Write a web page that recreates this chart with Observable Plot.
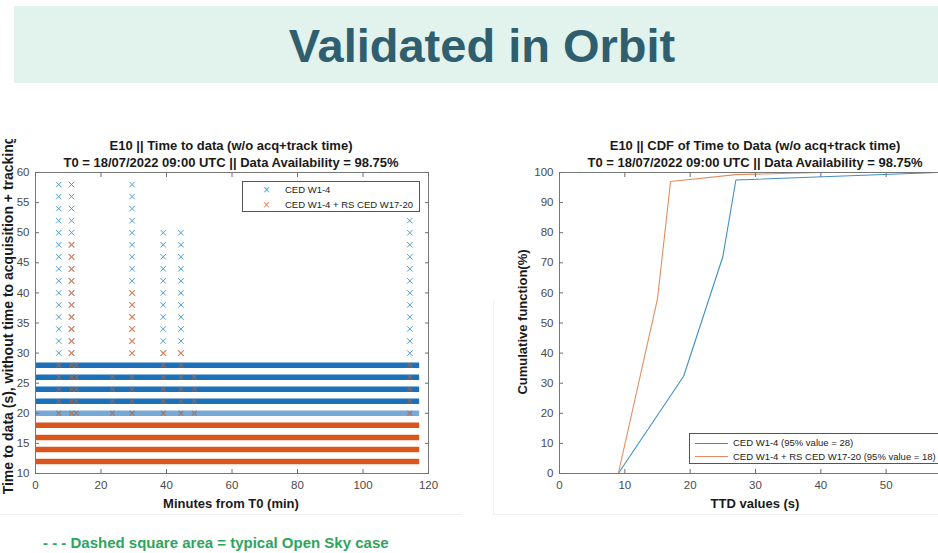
<!DOCTYPE html>
<html><head><meta charset="utf-8">
<script src="https://cdn.jsdelivr.net/npm/d3@7"></script>
<script src="https://cdn.jsdelivr.net/npm/@observablehq/plot@0.6"></script>
<style>
html,body{margin:0;padding:0;background:#fff;overflow:hidden;width:938px;height:553px;}
body{position:relative;font-family:"Liberation Sans",Arial,Helvetica,sans-serif;}
.abs{position:absolute;}
#band{left:14px;top:6px;width:924px;height:77px;background:#e2f2ec;}
#head{left:20px;top:7px;width:924px;height:77px;line-height:77px;text-align:center;font-weight:bold;font-size:47px;color:#2f5f6e;}
.ctitle{font-weight:bold;font-size:13px;color:#1a1a1a;text-align:center;line-height:17px;white-space:nowrap;transform:translate(-50%,0);z-index:2}
.alabel{font-weight:bold;font-size:13px;color:#1a1a1a;white-space:nowrap;z-index:2}
.legend{border:1px solid #555;background:#fff;z-index:2;font-size:9.5px;color:#222;}
.legrow{position:absolute;white-space:nowrap;}
#foot{left:43px;top:534px;font-weight:bold;font-size:15px;color:#2ea55c;white-space:nowrap}
.faint{background:#efefef;}
</style>
</head>
<body>
<div id="band" class="abs"></div>
<div id="head" class="abs">Validated in Orbit</div>
<div id="leftChart" class="abs" style="left:0;top:138px;"></div>
<div id="rightChart" class="abs" style="left:495px;top:138px;"></div>
<div class="abs faint" style="left:0;top:514px;width:462px;height:1px"></div>
<div class="abs faint" style="left:493px;top:514px;width:445px;height:1px"></div>
<div class="abs faint" style="left:493px;top:300px;width:1px;height:214px;background:#f4f4f4"></div>
<div id="foot" class="abs">- - - Dashed square area = typical Open Sky case</div>
<script>
// ---------- DATA ----------
const seriesNames = ["CED W1-4", "CED W1-4 + RS CED W17-20"];
const leftTitle = ["E10 || Time to data (w/o acq+track time)", "T0 = 18/07/2022 09:00 UTC || Data Availability = 98.75%"];
const rightTitle = ["E10 || CDF of Time to Data (w/o acq+track time)", "T0 = 18/07/2022 09:00 UTC || Data Availability = 98.75%"];
const leftXLabel = "Minutes from T0 (min)";
const leftYLabel = "Time to data (s), without time to acquisition + tracking";
const rightXLabel = "TTD values (s)";
const rightYLabel = "Cumulative function(%)";
const rightLegendText = ["CED W1-4 (95% value = 28)", "CED W1-4 + RS CED W17-20 (95% value = 18)"];

const leftXTicks = [0, 20, 40, 60, 80, 100, 120];
const leftYTicks = [10, 15, 20, 25, 30, 35, 40, 45, 50, 55, 60];
const rightXTicks = [0, 10, 20, 30, 40, 50, 60];
const rightXTickLabels = [0, 10, 20, 30, 40, 50];   // 60 falls outside the picture
const rightYTicks = [0, 10, 20, 30, 40, 50, 60, 70, 80, 90, 100];

// dense rows of samples (one per epoch, over the whole pass)
const bandTTD      = [28, 26, 24, 22, 20, 18, 16, 14, 12];
const bandSeries   = [0, 0, 0, 0, 0, 1, 1, 1, 1];
const bandCoverage = [1, 1, 1, 1, 0.6, 1, 1, 1, 1];
const bandFirstMin = 0;
const bandLastMin  = 117.3;

// sparse columns of large TTD values
const colMinutes = [7.1, 11.0, 29.5, 39.0, 44.4, 114.3];
const blueColTTD = [
  [30, 32, 34, 36, 38, 40, 42, 44, 46, 48, 50, 52, 54, 56, 58],
  [30, 32, 34, 36, 38, 40, 42, 44, 46, 48, 50, 52, 54, 56, 58],
  [30, 32, 34, 36, 38, 40, 42, 44, 46, 48, 50, 52, 54, 56, 58],
  [30, 32, 34, 36, 38, 40, 42, 44, 46, 48, 50],
  [30, 32, 34, 36, 38, 40, 42, 44, 46, 48, 50],
  [30, 32, 34, 36, 38, 40, 42, 44, 46, 48, 50, 52]
];
const orangeColTTD = [
  [],
  [30, 32, 34, 36, 38, 40, 42, 44, 46, 48],
  [30, 32, 34, 36, 38, 40],
  [30],
  [30],
  []
];
// orange samples lying on top of the blue rows
const overlapMinutes = [7.1, 11.0, 12.5, 23.5, 29.5, 39.0, 44.4, 48.5, 114.3];
const overlapTTD = [
  [20, 22, 24, 26, 28],
  [20, 22, 24, 26, 28],
  [20, 22, 24, 26, 28],
  [20, 22, 24, 26],
  [20, 22, 24, 26],
  [20, 22, 24, 26, 28],
  [20, 22, 24, 26, 28],
  [20, 22, 24, 26],
  [20, 22, 24, 26, 28]
];

// CDF curves
const cdfBlueTTD   = [1, 9, 19, 25, 27, 58, 60];
const cdfBluePct   = [0, 0, 32.3, 72, 97.5, 100, 100];
const cdfOrangeTTD = [1, 9, 15, 17, 27, 40, 60];
const cdfOrangePct = [0, 0, 58, 97, 99.3, 100, 100];

// ---------- COLOURS ----------
const blueBand = "#1c70b8", orangeBand = "#d9561e";
const blueMark = "#4f9fd6", orangeMark = "#e2835a", overlapMark = "#9a6a58";
const blueLine = "#3f8fc6", orangeLine = "#e28d62";
const FONT = '"Liberation Sans", Arial, Helvetica, sans-serif';

// ---------- helpers ----------
function axes(xt, yt, xl = xt, yl = yt) {
  const tc = "#6e6e6e", lc = "#4a4a4a";
  return [
    Plot.axisX(xl, {anchor: "bottom", tickSize: 0, tickPadding: 7, label: null, fill: lc}),
    Plot.axisX(xt, {anchor: "bottom", tickSize: -4, fill: "none", label: null, stroke: tc}),
    Plot.axisX(xt, {anchor: "top", tickSize: -4, fill: "none", label: null, stroke: tc}),
    Plot.axisY(yl, {anchor: "left", tickSize: 0, tickPadding: 6, label: null, fill: lc}),
    Plot.axisY(yt, {anchor: "left", tickSize: -4, fill: "none", label: null, stroke: tc}),
    Plot.axisY(yt, {anchor: "right", tickSize: -4, fill: "none", label: null, stroke: tc})
  ];
}
function addDiv(cls, style, text) {
  const d = document.createElement("div");
  d.className = "abs " + cls;
  d.setAttribute("style", style);
  if (text != null) d.textContent = text;
  document.body.appendChild(d);
  return d;
}

// ---------- LEFT CHART ----------
const bandRows = bandTTD.map((t, i) => ({ttd: t, series: seriesNames[bandSeries[i]], cov: bandCoverage[i], start: bandFirstMin, end: bandLastMin}));
const bluePts = colMinutes.flatMap((m, i) => blueColTTD[i].map(t => ({minute: m, ttd: t})));
const orangePts = colMinutes.flatMap((m, i) => orangeColTTD[i].map(t => ({minute: m, ttd: t})));
const overlapPts = overlapMinutes.flatMap((m, i) => overlapTTD[i].map(t => ({minute: m, ttd: t})));

const left = Plot.plot({
  width: 470, height: 378,
  marginLeft: 35, marginRight: 42, marginTop: 34, marginBottom: 43,
  style: {fontFamily: FONT, fontSize: "11.5px", background: "transparent", maxWidth: "none", overflow: "hidden"},
  x: {domain: [0, 120]},
  y: {domain: [10, 60]},
  color: {domain: seriesNames, range: [blueBand, orangeBand]},
  marks: [
    Plot.ruleY(bandRows, {y: "ttd", x1: "start", x2: "end", stroke: "series", strokeOpacity: "cov", strokeWidth: 5.5}),
    Plot.dot(overlapPts, {x: "minute", y: "ttd", symbol: "times", r: 2.3, stroke: overlapMark, strokeOpacity: 0.8, strokeWidth: 1.2}),
    Plot.dot(bluePts, {x: "minute", y: "ttd", symbol: "times", r: 2.6, stroke: blueMark, strokeWidth: 1}),
    Plot.dot(orangePts, {x: "minute", y: "ttd", symbol: "times", r: 2.6, stroke: orangeMark, strokeWidth: 1.1}),
    Plot.frame({stroke: "#777"}),
    ...axes(leftXTicks, leftYTicks)
  ]
});
document.getElementById("leftChart").appendChild(left);

// ---------- RIGHT CHART ----------
const cdfRows = [
  ...cdfBlueTTD.map((t, i) => ({ttd: t, pct: cdfBluePct[i], series: seriesNames[0]})),
  ...cdfOrangeTTD.map((t, i) => ({ttd: t, pct: cdfOrangePct[i], series: seriesNames[1]}))
];
const right = Plot.plot({
  width: 470, height: 378,
  marginLeft: 64, marginRight: 14, marginTop: 34, marginBottom: 43,
  style: {fontFamily: FONT, fontSize: "11.5px", background: "transparent", maxWidth: "none", overflow: "hidden"},
  x: {domain: [0, 60]},
  y: {domain: [0, 100]},
  color: {domain: seriesNames, range: [blueLine, orangeLine]},
  marks: [
    Plot.line(cdfRows, {x: "ttd", y: "pct", z: "series", stroke: "series", strokeWidth: 1.1}),
    Plot.frame({stroke: "#777"}),
    ...axes(rightXTicks, rightYTicks, rightXTickLabels, rightYTicks)
  ]
});
document.getElementById("rightChart").appendChild(right);

// ---------- TEXT OVERLAYS ----------
addDiv("ctitle", "left:231px;top:137px;", null).innerHTML = leftTitle.map(s => `<div>${s}</div>`).join("");
addDiv("ctitle", "left:755px;top:137px;", null).innerHTML = rightTitle.map(s => `<div>${s}</div>`).join("");
addDiv("alabel", "left:231px;top:503px;transform:translate(-50%,-50%);", leftXLabel);
addDiv("alabel", "left:755px;top:503px;transform:translate(-50%,-50%);", rightXLabel);
addDiv("alabel", "left:8px;top:315px;font-size:14px;transform:translate(-50%,-50%) rotate(-90deg);", leftYLabel);
addDiv("alabel", "left:522px;top:322px;transform:translate(-50%,-50%) rotate(-90deg);", rightYLabel);
// the left panel is cropped at its top, as in the reference
addDiv("", "left:0;top:0;width:30px;height:139px;background:#fff;z-index:3", null);
document.getElementById("band").style.zIndex = 4;
document.getElementById("head").style.zIndex = 5;

// left legend
const lg = addDiv("legend", "left:242px;top:181px;width:176px;height:29px;", null);
[[blueMark, seriesNames[0]], [orangeMark, seriesNames[1]]].forEach(([c, t], i) => {
  const m = document.createElement("div");
  m.className = "legrow";
  m.setAttribute("style", `left:20px;top:${i * 15 + 1}px;color:${c};font-size:12px;line-height:14px`);
  m.textContent = "×";
  lg.appendChild(m);
  const s = document.createElement("div");
  s.className = "legrow";
  s.setAttribute("style", `left:42px;top:${i * 15 + 2}px;line-height:12px`);
  s.textContent = t;
  lg.appendChild(s);
});
// right legend
const rg = addDiv("legend", "left:689px;top:433px;width:262px;height:29px;", null);
[[blueLine, rightLegendText[0]], [orangeLine, rightLegendText[1]]].forEach(([c, t], i) => {
  const m = document.createElement("div");
  m.className = "legrow";
  m.setAttribute("style", `left:5px;top:${i * 13.5 + 8.5}px;width:33px;height:0;border-top:1.2px solid ${c}`);
  rg.appendChild(m);
  const s = document.createElement("div");
  s.className = "legrow";
  s.setAttribute("style", `left:43px;top:${i * 13.5 + 3}px;line-height:12px`);
  s.textContent = t;
  rg.appendChild(s);
});
</script>
</body></html>
